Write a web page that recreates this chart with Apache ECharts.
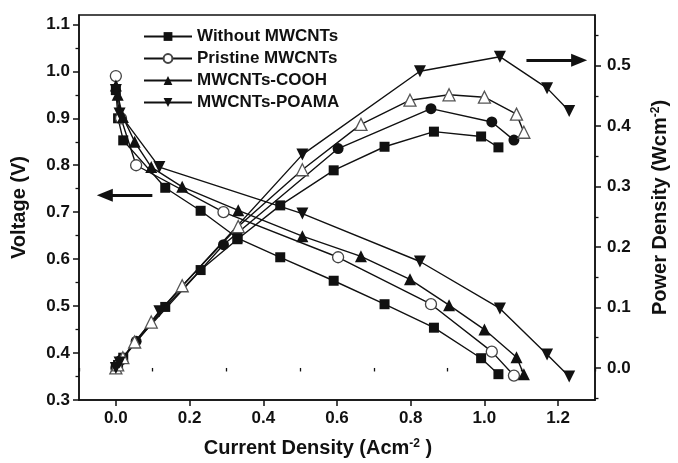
<!DOCTYPE html>
<html>
<head>
<meta charset="utf-8">
<script src="https://cdn.jsdelivr.net/npm/echarts@6/dist/echarts.min.js"></script>
<style>
  html, body { margin: 0; padding: 0; background: #fff; }
  #chart { width: 678px; height: 463px; }
</style>
</head>
<body>
<div id="chart"></div>
<script>
// current density (A/cm2), voltage (V), power density (W/cm2)
const seriesNames = ['Without MWCNTs', 'Pristine MWCNTs', 'MWCNTs-COOH', 'MWCNTs-POAMA'];

const currentWithout = [0, 0.006, 0.02, 0.134, 0.23, 0.33, 0.446, 0.591, 0.729, 0.863, 0.991, 1.038];
const voltWithout = [0.96, 0.90, 0.853, 0.752, 0.703, 0.645, 0.604, 0.554, 0.504, 0.454, 0.389, 0.355];
const powerWithout = [0, 0.005, 0.017, 0.101, 0.162, 0.213, 0.269, 0.327, 0.366, 0.391, 0.383, 0.365];

const currentPristine = [0, 0.014, 0.055, 0.292, 0.603, 0.855, 1.02, 1.08];
const voltPristine = [0.99, 0.90, 0.80, 0.70, 0.604, 0.504, 0.403, 0.352];
const powerPristine = [0, 0.013, 0.044, 0.204, 0.363, 0.429, 0.407, 0.377];

const currentCOOH = [0, 0.005, 0.019, 0.051, 0.096, 0.18, 0.332, 0.506, 0.665, 0.798, 0.904, 1.0, 1.087, 1.107];
const voltCOOH = [0.97, 0.95, 0.903, 0.85, 0.796, 0.754, 0.704, 0.649, 0.606, 0.557, 0.502, 0.45, 0.391, 0.355];
const powerCOOH = [0, 0.005, 0.017, 0.043, 0.076, 0.136, 0.234, 0.328, 0.403, 0.443, 0.452, 0.448, 0.42, 0.39];

const currentPOAMA = [0, 0.01, 0.118, 0.506, 0.825, 1.042, 1.17, 1.23];
const voltPOAMA = [0.96, 0.91, 0.796, 0.697, 0.595, 0.495, 0.397, 0.35];
const powerPOAMA = [0, 0.009, 0.094, 0.353, 0.491, 0.515, 0.463, 0.425];

// tick positions
const xMajorTicks = [0, 0.2, 0.4, 0.6, 0.8, 1.0, 1.2];
const xMinorTicks = [-0.1, 0.1, 0.3, 0.5, 0.7, 0.9, 1.1, 1.3];
const voltMajorTicks = [0.3, 0.4, 0.5, 0.6, 0.7, 0.8, 0.9, 1.0, 1.1];
const voltMinorTicks = [0.35, 0.45, 0.55, 0.65, 0.75, 0.85, 0.95, 1.05];
const powerMajorTicks = [0, 0.1, 0.2, 0.3, 0.4, 0.5];
const powerMinorTicks = [-0.05, 0.05, 0.15, 0.25, 0.35, 0.45, 0.55];

// arrows pointing to the axis each family belongs to
const voltArrow = { from: [0.099, 0.736], to: [-0.03, 0.736] };
const powerArrow = { from: [1.114, 0.509], to: [1.257, 0.509] };

const pairs = (xs, ys) => xs.map((x, i) => [x, ys[i]]);

const ink = '#111';
const font = 'Liberation Sans, Arial, sans-serif';

const lineBase = {
    type: 'line',
    xAxisIndex: 0,
    lineStyle: { color: ink, width: 1.4 },
    emphasis: { disabled: true },
    animation: false,
};

const arrowLine = (a) => ({
    silent: true,
    symbol: ['none', 'triangle'],
    symbolSize: [13, 16],
    label: { show: false },
    lineStyle: { color: ink, width: 3, type: 'solid' },
    emphasis: { disabled: true },
    data: [[{ coord: a.from }, { coord: a.to }]],
});

const chart = echarts.init(document.getElementById('chart'));

const axisFont = { fontSize: 17, fontWeight: 'bold', color: ink, fontFamily: font };
const nameFont = {
    fontSize: 20, fontWeight: 'bold', color: ink, fontFamily: font,
    rich: { sup: { fontSize: 12, fontWeight: 'bold', color: ink, fontFamily: font, verticalAlign: 'top' } },
};
const axisLine = { show: true, onZero: false, lineStyle: { color: ink, width: 1.5 } };

const option = {
    backgroundColor: '#fff',
    grid: { left: 79, right: 77, top: 15, bottom: 63, show: true, borderColor: ink, borderWidth: 1.5 },
    legend: {
        data: seriesNames,
        orient: 'vertical',
        left: 138,
        top: 23,
        itemWidth: 48,
        itemHeight: 11,
        itemGap: 5,
        textStyle: { fontSize: 17, fontWeight: 'bold', color: ink, fontFamily: font },
        selectedMode: false,
    },
    xAxis: [
        {
            type: 'value', min: -0.1, max: 1.3, position: 'bottom',
            axisLine: axisLine,
            axisTick: { customValues: xMajorTicks, length: 6, lineStyle: { color: ink, width: 1.5 } },
            axisLabel: { customValues: xMajorTicks, formatter: v => v.toFixed(1), margin: 10, ...axisFont },
            splitLine: { show: false },
            name: 'Current Density (Acm{sup|-2} )',
            nameLocation: 'middle',
            nameGap: 38,
            nameTextStyle: { ...nameFont, padding: [0, 38, 0, 0] },
        },
        {
            type: 'value', min: -0.1, max: 1.3, position: 'bottom',
            axisLine: { show: false },
            axisTick: { customValues: xMinorTicks, length: 3.5, lineStyle: { color: ink, width: 1.3 } },
            axisLabel: { show: false },
            splitLine: { show: false },
        },
    ],
    yAxis: [
        {
            type: 'value', min: 0.3, max: 1.12, position: 'left',
            axisLine: axisLine,
            axisTick: { customValues: voltMajorTicks, length: 6, lineStyle: { color: ink, width: 1.5 } },
            axisLabel: { customValues: voltMajorTicks, formatter: v => v.toFixed(1), margin: 9, ...axisFont },
            splitLine: { show: false },
            name: 'Voltage (V)',
            nameLocation: 'middle',
            nameRotate: 90,
            nameGap: 50,
            nameTextStyle: nameFont,
        },
        {
            type: 'value', min: -0.053, max: 0.584, position: 'right',
            axisLine: axisLine,
            axisTick: { customValues: powerMajorTicks, length: 6, lineStyle: { color: ink, width: 1.5 } },
            axisLabel: { customValues: powerMajorTicks, formatter: v => v.toFixed(1), margin: 12, ...axisFont },
            splitLine: { show: false },
            name: 'Power Density (Wcm{sup|-2})',
            nameLocation: 'middle',
            nameRotate: 90,
            nameGap: 55,
            nameTextStyle: nameFont,
        },
        {
            type: 'value', min: 0.3, max: 1.12, position: 'left',
            axisLine: { show: false, onZero: false },
            axisTick: { customValues: voltMinorTicks, length: 3.5, lineStyle: { color: ink, width: 1.3 } },
            axisLabel: { show: false },
            splitLine: { show: false },
        },
        {
            type: 'value', min: -0.053, max: 0.584, position: 'right',
            axisLine: { show: false, onZero: false },
            axisTick: { customValues: powerMinorTicks, length: 3.5, lineStyle: { color: ink, width: 1.3 } },
            axisLabel: { show: false },
            splitLine: { show: false },
        },
    ],
    series: [
        // voltage curves (left axis)
        {
            ...lineBase, name: seriesNames[0], yAxisIndex: 0,
            data: pairs(currentWithout, voltWithout),
            symbol: 'rect', symbolSize: 10,
            itemStyle: { color: ink },
            markLine: arrowLine(voltArrow),
        },
        {
            ...lineBase, name: seriesNames[1], yAxisIndex: 0,
            data: pairs(currentPristine, voltPristine),
            symbol: 'circle', symbolSize: 11,
            itemStyle: { color: '#fff', borderColor: '#444', borderWidth: 1.3 },
        },
        {
            ...lineBase, name: seriesNames[2], yAxisIndex: 0,
            data: pairs(currentCOOH, voltCOOH),
            symbol: 'triangle', symbolSize: 12,
            itemStyle: { color: ink },
        },
        {
            ...lineBase, name: seriesNames[3], yAxisIndex: 0,
            data: pairs(currentPOAMA, voltPOAMA),
            symbol: 'triangle', symbolRotate: 180, symbolSize: 12,
            itemStyle: { color: ink },
        },
        // power curves (right axis)
        {
            ...lineBase, name: seriesNames[0], yAxisIndex: 1,
            data: pairs(currentWithout, powerWithout),
            symbol: 'rect', symbolSize: 10,
            itemStyle: { color: ink },
        },
        {
            ...lineBase, name: seriesNames[1], yAxisIndex: 1,
            data: pairs(currentPristine, powerPristine),
            symbol: 'circle', symbolSize: 11,
            itemStyle: { color: ink },
        },
        {
            ...lineBase, name: seriesNames[2], yAxisIndex: 1,
            data: pairs(currentCOOH, powerCOOH),
            symbol: 'triangle', symbolSize: 12,
            itemStyle: { color: '#fff', borderColor: '#555', borderWidth: 1.3 },
        },
        {
            ...lineBase, name: seriesNames[3], yAxisIndex: 1,
            data: pairs(currentPOAMA, powerPOAMA),
            symbol: 'triangle', symbolRotate: 180, symbolSize: 12,
            itemStyle: { color: ink },
            markLine: arrowLine(powerArrow),
        },
    ],
};

chart.setOption(option);
</script>
</body>
</html>
